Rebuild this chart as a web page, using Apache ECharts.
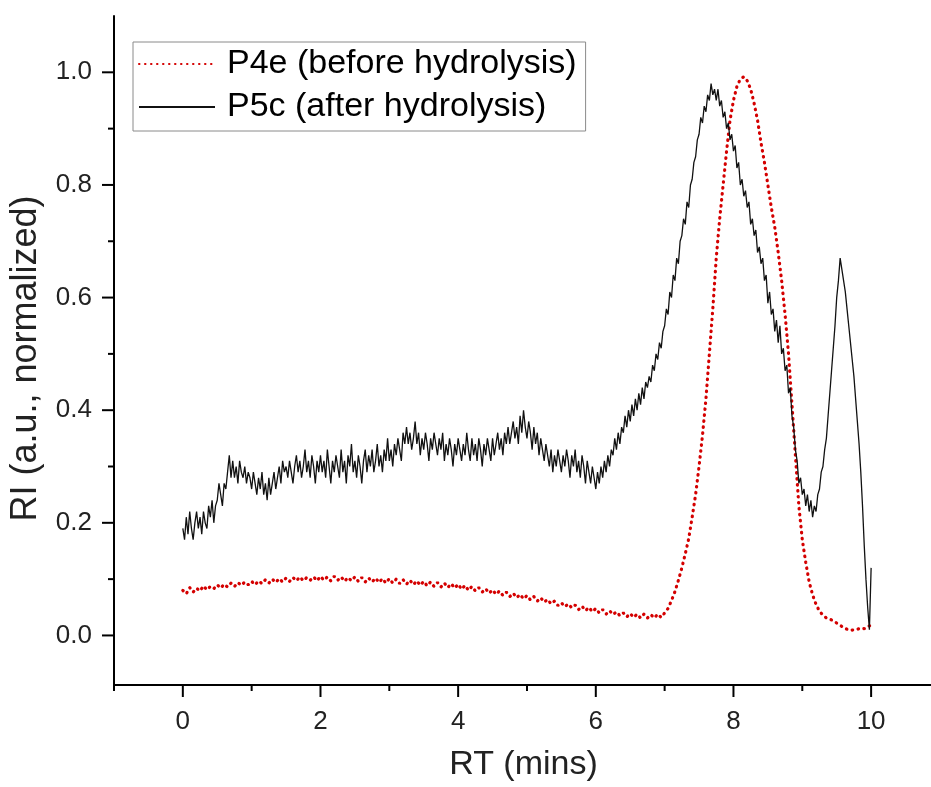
<!DOCTYPE html>
<html>
<head>
<meta charset="utf-8">
<script src="https://cdn.jsdelivr.net/npm/echarts@6/dist/echarts.min.js"></script>
<style>html,body{margin:0;padding:0;background:#fff}#c{width:931px;height:787px}</style>
</head>
<body>
<div id="c"></div>
<script>
// RT grid for P4e (before hydrolysis)
const rtP4e = [0.00,0.05,0.10,0.15,0.20,0.25,0.30,0.35,0.40,0.45,0.50,0.55,0.60,0.65,0.70,0.75,0.80,0.85,0.90,0.95,
1.00,1.05,1.10,1.15,1.20,1.25,1.30,1.35,1.40,1.45,1.50,1.55,1.60,1.65,1.70,1.75,1.80,1.85,1.90,1.95,
2.00,2.05,2.10,2.15,2.20,2.25,2.30,2.35,2.40,2.45,2.50,2.55,2.60,2.65,2.70,2.75,2.80,2.85,2.90,2.95,
3.00,3.05,3.10,3.15,3.20,3.25,3.30,3.35,3.40,3.45,3.50,3.55,3.60,3.65,3.70,3.75,3.80,3.85,3.90,3.95,
4.00,4.05,4.10,4.15,4.20,4.25,4.30,4.35,4.40,4.45,4.50,4.55,4.60,4.65,4.70,4.75,4.80,4.85,4.90,4.95,
5.00,5.05,5.10,5.15,5.20,5.25,5.30,5.35,5.40,5.45,5.50,5.55,5.60,5.65,5.70,5.75,5.80,5.85,5.90,5.95,
6.00,6.05,6.10,6.15,6.20,6.25,6.30,6.35,6.40,6.45,6.50,6.55,6.60,6.65,6.70,6.75,6.80,6.85,6.90,6.95,
7.00,7.05,7.10,7.15,7.20,7.25,7.30,7.35,7.40,7.45,7.50,7.55,7.60,7.65,7.70,7.75,7.80,7.85,7.90,7.95,
8.00,8.05,8.10,8.15,8.20,8.25,8.30,8.35,8.40,8.45,8.50,8.55,8.60,8.65,8.70,8.75,8.80,8.85,8.90,8.95,
9.00,9.05,9.10,9.15,9.20,9.25,9.30,9.35,9.40,9.45,9.50,9.55,9.60,9.65,9.70,9.75,9.80,9.85,9.90,9.95,
10.00];

const p4e = [0.080,0.074,0.085,0.077,0.084,0.079,0.088,0.081,0.087,0.083,0.090,0.084,0.091,0.086,0.093,0.087,0.094,0.089,0.095,0.090,
0.096,0.090,0.097,0.092,0.099,0.093,0.100,0.094,0.101,0.095,0.102,0.096,0.103,0.097,0.104,0.097,0.103,0.098,0.104,0.097,
0.105,0.098,0.104,0.097,0.105,0.098,0.104,0.096,0.103,0.097,0.104,0.096,0.103,0.095,0.102,0.095,0.102,0.094,0.101,0.093,
0.101,0.093,0.100,0.092,0.099,0.091,0.098,0.090,0.097,0.089,0.096,0.088,0.095,0.087,0.094,0.086,0.093,0.085,0.092,0.084,
0.091,0.082,0.089,0.080,0.087,0.079,0.085,0.077,0.083,0.075,0.081,0.073,0.079,0.071,0.077,0.069,0.075,0.067,0.073,0.065,
0.071,0.063,0.069,0.061,0.067,0.059,0.064,0.056,0.061,0.053,0.058,0.051,0.056,0.049,0.054,0.046,0.052,0.044,0.050,0.042,
0.048,0.040,0.046,0.038,0.044,0.037,0.042,0.035,0.040,0.033,0.039,0.032,0.038,0.031,0.038,0.031,0.037,0.031,0.038,0.032,
0.040,0.048,0.062,0.078,0.098,0.120,0.145,0.172,0.210,0.250,0.300,0.355,0.420,0.500,0.580,0.670,0.740,0.800,0.860,0.915,
0.950,0.975,0.988,0.992,0.985,0.970,0.945,0.915,0.875,0.840,0.800,0.760,0.725,0.680,0.630,0.570,0.500,0.410,0.320,0.230,
0.170,0.130,0.095,0.072,0.055,0.043,0.036,0.031,0.029,0.026,0.022,0.018,0.014,0.011,0.009,0.010,0.011,0.013,0.012,0.016,
0.018];

// RT grid for P5c (after hydrolysis)
const rtP5c = [
0.000,0.025,0.050,0.075,0.100,0.125,0.150,0.175,0.200,0.225,
0.250,0.275,0.300,0.325,0.350,0.375,0.400,0.425,0.450,0.475,
0.500,0.525,0.550,0.575,0.600,0.625,0.650,0.675,0.700,0.725,
0.750,0.775,0.800,0.825,0.850,0.875,0.900,0.925,0.950,0.975,
1.000,1.025,1.050,1.075,1.100,1.125,1.150,1.175,1.200,1.225,
1.250,1.275,1.300,1.325,1.350,1.375,1.400,1.425,1.450,1.475,
1.500,1.525,1.550,1.575,1.600,1.625,1.650,1.675,1.700,1.725,
1.750,1.775,1.800,1.825,1.850,1.875,1.900,1.925,1.950,1.975,
2.000,2.025,2.050,2.075,2.100,2.125,2.150,2.175,2.200,2.225,
2.250,2.275,2.300,2.325,2.350,2.375,2.400,2.425,2.450,2.475,
2.500,2.525,2.550,2.575,2.600,2.625,2.650,2.675,2.700,2.725,
2.750,2.775,2.800,2.825,2.850,2.875,2.900,2.925,2.950,2.975,
3.000,3.025,3.050,3.075,3.100,3.125,3.150,3.175,3.200,3.225,
3.250,3.275,3.300,3.325,3.350,3.375,3.400,3.425,3.450,3.475,
3.500,3.525,3.550,3.575,3.600,3.625,3.650,3.675,3.700,3.725,
3.750,3.775,3.800,3.825,3.850,3.875,3.900,3.925,3.950,3.975,
4.000,4.025,4.050,4.075,4.100,4.125,4.150,4.175,4.200,4.225,
4.250,4.275,4.300,4.325,4.350,4.375,4.400,4.425,4.450,4.475,
4.500,4.525,4.550,4.575,4.600,4.625,4.650,4.675,4.700,4.725,
4.750,4.775,4.800,4.825,4.850,4.875,4.900,4.925,4.950,4.975,
5.000,5.025,5.050,5.075,5.100,5.125,5.150,5.175,5.200,5.225,
5.250,5.275,5.300,5.325,5.350,5.375,5.400,5.425,5.450,5.475,
5.500,5.525,5.550,5.575,5.600,5.625,5.650,5.675,5.700,5.725,
5.750,5.775,5.800,5.825,5.850,5.875,5.900,5.925,5.950,5.975,
6.000,6.025,6.050,6.075,6.100,6.125,6.150,6.175,6.200,6.225,
6.250,6.275,6.300,6.325,6.350,6.375,6.400,6.425,6.450,6.475,
6.500,6.525,6.550,6.575,6.600,6.625,6.650,6.675,6.700,6.725,
6.750,6.775,6.800,6.825,6.850,6.875,6.900,6.925,6.950,6.975,
7.000,7.025,7.050,7.075,7.100,7.125,7.150,7.175,7.200,7.225,
7.250,7.275,7.300,7.325,7.350,7.375,7.400,7.425,7.450,7.475,
7.500,7.525,7.550,7.575,7.600,7.625,7.650,7.675,7.700,7.725,
7.750,7.775,7.800,7.825,7.850,7.875,7.900,7.925,7.950,7.975,
8.000,8.025,8.050,8.075,8.100,8.125,8.150,8.175,8.200,8.225,
8.250,8.275,8.300,8.325,8.350,8.375,8.400,8.425,8.450,8.475,
8.500,8.525,8.550,8.575,8.600,8.625,8.650,8.675,8.700,8.725,
8.750,8.775,8.800,8.825,8.850,8.875,8.900,8.925,8.950,8.975,
9.000,9.025,9.050,9.075,9.100,9.125,9.150,9.175,9.200,9.225,
9.250,9.275,9.300,9.325,9.350,9.375,9.400,9.425,9.450,9.475,
9.500,9.525,9.550,9.575,9.600,9.625,9.650,9.675,9.700,9.725,
9.750,9.775,9.800,9.825,9.850,9.875,9.900,9.925,9.950,9.975,
10.000];

const p5c = [
0.19,0.17,0.21,0.18,0.22,0.19,0.17,0.20,0.22,0.19,
0.21,0.18,0.22,0.20,0.19,0.23,0.21,0.24,0.20,0.23,
0.24,0.27,0.25,0.23,0.27,0.26,0.29,0.32,0.28,0.31,
0.28,0.30,0.27,0.31,0.29,0.28,0.30,0.27,0.29,0.28,
0.26,0.29,0.27,0.25,0.28,0.26,0.29,0.25,0.27,0.24,
0.28,0.25,0.27,0.29,0.26,0.28,0.30,0.27,0.31,0.29,
0.30,0.28,0.31,0.29,0.27,0.30,0.32,0.29,0.31,0.28,
0.30,0.33,0.29,0.31,0.28,0.32,0.30,0.27,0.31,0.29,
0.32,0.29,0.31,0.28,0.33,0.30,0.27,0.31,0.29,0.32,
0.30,0.28,0.33,0.29,0.31,0.27,0.32,0.30,0.34,0.29,
0.31,0.28,0.32,0.30,0.27,0.31,0.33,0.29,0.32,0.30,
0.33,0.29,0.31,0.34,0.30,0.32,0.29,0.33,0.31,0.35,
0.31,0.33,0.30,0.34,0.32,0.35,0.33,0.31,0.36,0.34,
0.37,0.34,0.36,0.33,0.35,0.38,0.34,0.36,0.32,0.35,
0.33,0.36,0.34,0.31,0.35,0.33,0.36,0.34,0.32,0.35,
0.33,0.36,0.31,0.34,0.32,0.35,0.33,0.30,0.34,0.32,
0.35,0.33,0.31,0.34,0.32,0.36,0.33,0.31,0.35,0.32,
0.34,0.31,0.35,0.33,0.30,0.34,0.32,0.35,0.33,0.31,
0.35,0.32,0.34,0.36,0.33,0.35,0.32,0.36,0.34,0.37,
0.34,0.36,0.38,0.35,0.37,0.34,0.39,0.36,0.40,0.37,
0.35,0.38,0.36,0.33,0.37,0.34,0.36,0.32,0.35,0.33,
0.31,0.34,0.32,0.30,0.33,0.29,0.32,0.30,0.33,0.31,
0.29,0.32,0.30,0.33,0.31,0.28,0.32,0.30,0.33,0.29,
0.31,0.28,0.32,0.30,0.27,0.31,0.29,0.27,0.30,0.28,
0.26,0.29,0.27,0.30,0.28,0.31,0.29,0.32,0.30,0.33,
0.32,0.35,0.33,0.36,0.34,0.37,0.36,0.39,0.37,0.40,
0.38,0.41,0.39,0.42,0.40,0.43,0.41,0.44,0.42,0.45,
0.44,0.46,0.45,0.48,0.47,0.50,0.49,0.52,0.51,0.54,
0.55,0.58,0.57,0.61,0.60,0.64,0.63,0.67,0.66,0.70,
0.71,0.74,0.73,0.77,0.76,0.80,0.81,0.84,0.85,0.88,
0.89,0.92,0.91,0.94,0.93,0.96,0.95,0.98,0.96,0.97,
0.95,0.97,0.94,0.95,0.92,0.93,0.90,0.91,0.88,0.89,
0.86,0.87,0.83,0.84,0.80,0.81,0.78,0.79,0.76,0.77,
0.73,0.74,0.71,0.72,0.68,0.69,0.66,0.67,0.63,0.64,
0.59,0.61,0.57,0.58,0.54,0.56,0.52,0.55,0.50,0.51,
0.47,0.48,0.43,0.44,0.39,0.37,0.33,0.31,0.27,0.28,
0.25,0.26,0.23,0.25,0.22,0.24,0.21,0.23,0.22,0.25,
0.26,0.29,0.30,0.33,0.35,0.39,0.43,0.47,0.51,0.55,
0.60,0.63,0.67,0.65,0.63,0.61,0.58,0.55,0.52,0.49,
0.46,0.42,0.38,0.34,0.29,0.23,0.16,0.10,0.05,0.01,
0.12];

const xLabels = [0, 2, 4, 6, 8, 10];
const xMinor = [-1, 1, 3, 5, 7, 9];
const yLabels = [0, 0.2, 0.4, 0.6, 0.8, 1.0];
const yMinor = [0.1, 0.3, 0.5, 0.7, 0.9];

const FONT = '"Liberation Sans", Arial, sans-serif';
const XMIN = -1, XMAX = 10.87, YMIN = -0.088, YMAX = 1.1;

// tick marks drawn through the axis scales (api.coord)
function tickSeries(vals, dir, len) {
  return {
    type: 'custom', silent: true, clip: false, z: 10,
    data: vals.map(v => dir === 'x' ? [v, YMIN] : [XMIN, v]),
    encode: {x: 0, y: 1},
    renderItem: (params, api) => {
      const p = api.coord([api.value(0), api.value(1)]);
      const shape = dir === 'x'
        ? {x1: p[0], y1: p[1], x2: p[0], y2: p[1] + len}
        : {x1: p[0] - len, y1: p[1], x2: p[0], y2: p[1]};
      return {type: 'line', shape: shape, style: {stroke: '#000', lineWidth: 2}};
    }
  };
}

const chart = echarts.init(document.getElementById('c'));
chart.setOption({
  animation: false,
  backgroundColor: '#fff',
  grid: {left: 114, top: 16, right: 0, height: 670},
  legend: {
    orient: 'vertical', left: 133, top: 42,
    itemWidth: 76, itemHeight: 14, itemGap: 7,
    padding: [4, 9, 6, 5],
    borderColor: '#8a8a8a', borderWidth: 1,
    itemStyle: {opacity: 0},
    textStyle: {fontFamily: FONT, fontSize: 34, color: '#000', lineHeight: 36, padding: [0, 0, 0, 7]},
    data: ['P4e (before hydrolysis)', 'P5c (after hydrolysis)']
  },
  xAxis: {
    type: 'value', min: XMIN, max: XMAX,
    name: 'RT (mins)', nameLocation: 'middle', nameGap: 63,
    nameTextStyle: {fontFamily: FONT, fontSize: 34, color: '#222', padding: [0, 0, 0, 2]},
    axisLine: {show: true, onZero: false, lineStyle: {color: '#000', width: 2}},
    axisTick: {show: false},
    axisLabel: {show: true, margin: 24, fontFamily: FONT, fontSize: 26, color: '#222', customValues: xLabels},
    splitLine: {show: false}
  },
  yAxis: {
    type: 'value', min: YMIN, max: YMAX,
    name: 'RI (a.u., normalized)', nameLocation: 'middle', nameGap: 70, nameRotate: 90,
    nameTextStyle: {fontFamily: FONT, fontSize: 36, color: '#222', padding: [0, 16, 0, 0]},
    axisLine: {show: true, onZero: false, lineStyle: {color: '#000', width: 2}},
    axisTick: {show: false},
    axisLabel: {show: true, margin: 22, fontFamily: FONT, fontSize: 26, color: '#222', customValues: yLabels,
      formatter: v => v.toFixed(1)},
    splitLine: {show: false}
  },
  series: [
    tickSeries(xLabels, 'x', 12), tickSeries(xMinor, 'x', 6),
    tickSeries(yLabels, 'y', 12), tickSeries(yMinor, 'y', 6),
  {
    name: 'P4e (before hydrolysis)', type: 'line',
    data: rtP4e.map((x, i) => [x, p4e[i]]),
    showSymbol: false, symbol: 'none',
    itemStyle: {color: '#d40000'},
    lineStyle: {color: '#d40000', width: 3.2, type: [0.5, 5.5], cap: 'round'},
    z: 2
  }, {
    name: 'P5c (after hydrolysis)', type: 'line',
    data: rtP5c.map((x, i) => [x, p5c[i]]),
    showSymbol: false, symbol: 'none',
    itemStyle: {color: '#111'},
    lineStyle: {color: '#111', width: 1.3},
    z: 3
  }]
});
</script>
</body>
</html>
